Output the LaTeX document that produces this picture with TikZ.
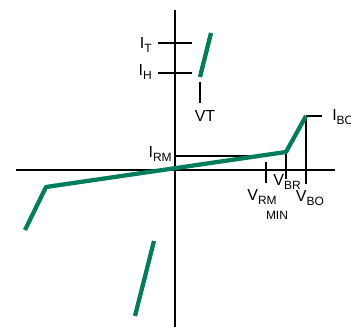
\documentclass[tikz,border=0pt]{standalone}
\usepackage{fontspec}
\setmainfont{Liberation Sans}
\definecolor{grn}{RGB}{0,125,90}
\newcommand{\sublab}[2]{#1\raisebox{-2.5pt}{\fontsize{9}{10}\selectfont #2}}
\begin{document}
\begin{tikzpicture}[x=0.75pt,y=-0.75pt,
  ax/.style={black,line width=1.05pt},
  curve/.style={grn,line width=3.2pt,line join=round},
  lbl/.style={inner sep=0pt,font=\fontsize{12}{14}\selectfont}]
\useasboundingbox (0,0) rectangle (351,327);
% axes
\coordinate (vt) at (175,10); \coordinate (vb) at (175,327);
\coordinate (hl) at (16,170); \coordinate (hr) at (335,170);
\draw[ax] (vt) -- (vb);
\draw[ax] (hl) -- (hr);
% IT, IH ticks
\coordinate (itl) at (158,43); \coordinate (itr) at (192,43);
\coordinate (ihl) at (158,73); \coordinate (ihr) at (192,73);
\draw[ax] (itl) -- (itr);
\draw[ax] (ihl) -- (ihr);
\node[lbl,anchor=east] (IT) at (152,45) {\sublab{I}{T}};
\node[lbl,anchor=east] (IH) at (152,72) {\sublab{I}{H}};
% VT
\coordinate (vt1) at (200,82); \coordinate (vt2) at (200,103);
\draw[ax] (vt1) -- (vt2);
\node[lbl] (VT) at (205,116) {VT};
% IRM
\coordinate (irm1) at (175,156); \coordinate (irm2) at (265,156);
\draw[ax] (irm1) -- (irm2);
\node[lbl,anchor=east] (IRM) at (172,154) {\sublab{I}{RM}};
% VRM, VBR, VBO
\coordinate (vrm1) at (266,162); \coordinate (vrm2) at (266,183);
\draw[ax] (vrm1) -- (vrm2);
\coordinate (vbr1) at (286,152); \coordinate (vbr2) at (286,179);
\draw[ax] (vbr1) -- (vbr2);
\coordinate (vbo1) at (306,116); \coordinate (vbo2) at (306,184);
\draw[ax] (vbo1) -- (vbo2);
\coordinate (ibo2) at (322,116);
\draw[ax] (vbo1) -- (ibo2);
\node[lbl,anchor=west] (IBO) at (332,117) {\sublab{I}{BO}};
\node[lbl] (VRM) at (262,197) {\sublab{V}{RM}};
\node[lbl] (VBR) at (287,182) {\sublab{V}{BR}};
\node[lbl] (VBO) at (310,198) {\sublab{V}{BO}};
\node[lbl,font=\fontsize{9}{10}\selectfont] (MIN) at (277,215) {MIN};
% green curves
\draw[curve] (211,33) -- (200,77);
\draw[curve] (25,230) -- (46,187) -- (286,152) -- (306,116);
\draw[curve] (154,241) -- (135,316);
\end{tikzpicture}
\end{document}
